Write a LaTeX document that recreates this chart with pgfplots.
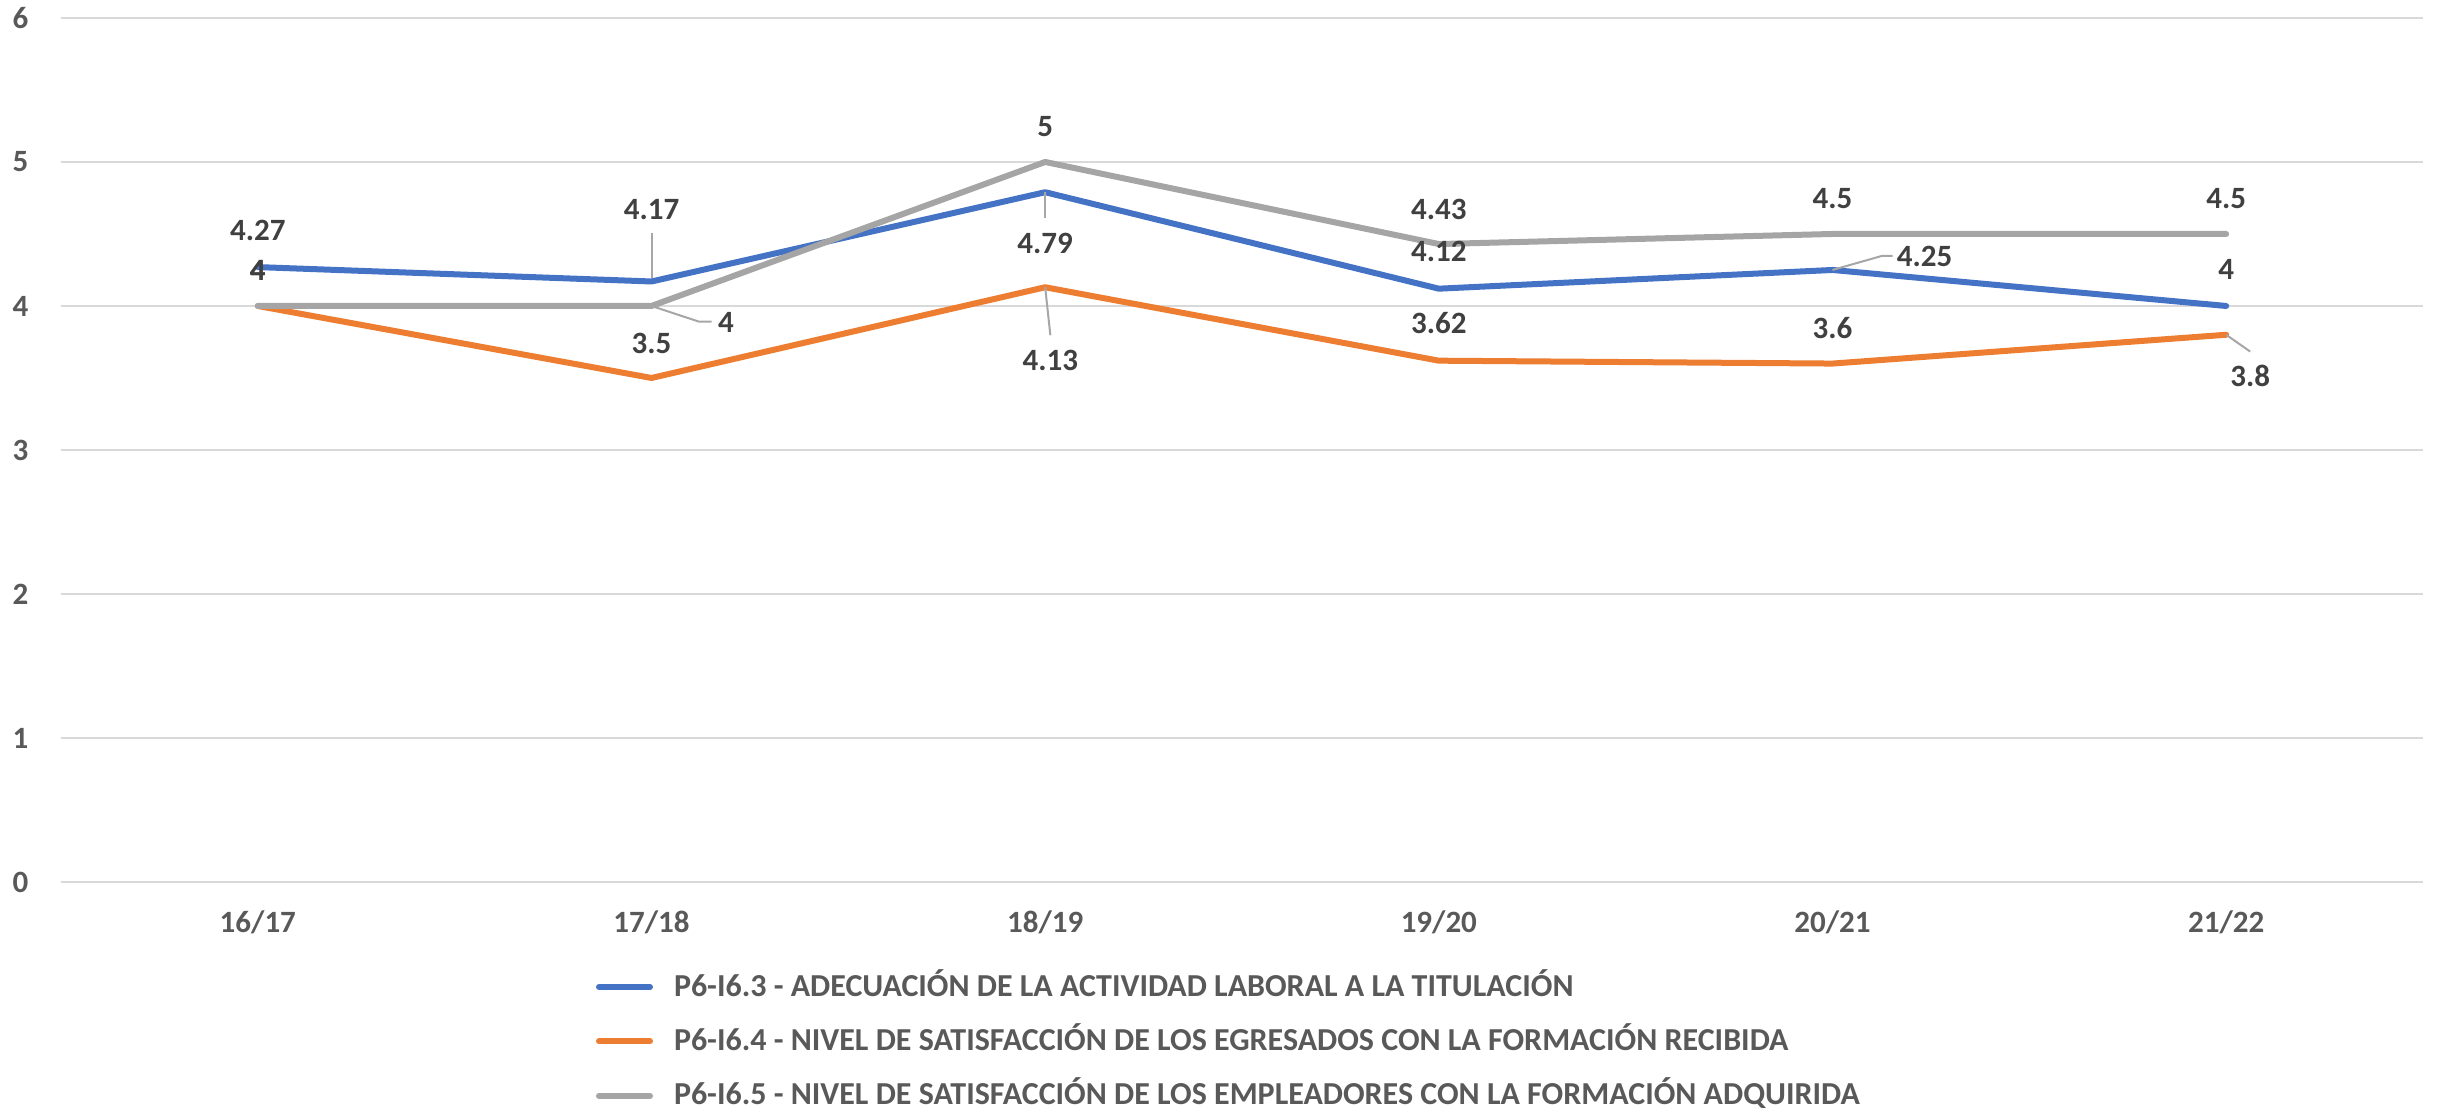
\documentclass[border=0pt]{standalone}
\usepackage{fontspec}
\setmainfont{Carlito}
\usepackage{pgfplots}
\usepackage{pgfplotstable}
\pgfplotsset{compat=1.18}
\usetikzlibrary{calc}
\definecolor{cblue}{HTML}{4472C4}
\definecolor{corange}{HTML}{ED7D31}
\definecolor{cgray}{HTML}{A5A5A5}
\definecolor{ctick}{HTML}{595959}
\definecolor{clabel}{HTML}{404040}
\definecolor{cgrid}{HTML}{D9D9D9}
\definecolor{clead}{HTML}{A6A6A6}

\pgfplotstableread{
x y dx dy
0 4.27 0 9.2
1 4.17 0 18
2 4.79 0 -12.9
3 4.12 0 9.3
4 4.25 23 3.3
5 4.00 0 9.2
}\tblue
\pgfplotstableread{
x y dx dy
0 4.00 0 9
1 3.50 0 8.6
2 4.13 1.3 -18.3
3 3.62 0 9.4
4 3.60 0 9
5 3.80 6 -10.4
}\torange
\pgfplotstableread{
x y dx dy
0 4.00 0 9
1 4.00 18.6 -4.2
2 5.00 0 8.75
3 4.43 0 8.75
4 4.50 0 8.75
5 4.50 0 8.75
}\tgray

\newcommand{\lblfont}{\fontsize{7.75}{9}\selectfont\bfseries}
\newcommand{\legfont}{\fontsize{8}{9.5}\selectfont\bfseries}

\pgfplotsset{
  datalabels/.style={draw=none, mark=none, forget plot,
    visualization depends on={\thisrow{dx} \as \dx},
    visualization depends on={\thisrow{dy} \as \dy},
    point meta=explicit,
    nodes near coords={\pgfmathprintnumber[assume math mode=true]{\pgfplotspointmeta}},
    every node near coord/.append style={font=\lblfont, text=clabel, anchor=center, inner sep=0pt, xshift=\dx, yshift=\dy},
  },
}

\begin{document}
\begin{tikzpicture}
\begin{axis}[
  name=ax,
  scale only axis,
  width=590.5pt, height=216pt,
  xmin=-0.5, xmax=5.5, ymin=0, ymax=6,
  xtick={0,1,2,3,4,5},
  xticklabels={16/17,17/18,18/19,19/20,20/21,21/22},
  ytick={0,1,2,3,4,5,6},
  axis line style={draw=none},
  major tick length=0pt,
  ymajorgrids,
  grid style={cgrid, line width=0.45pt},
  tick label style={font=\lblfont, text=ctick},
  xticklabel style={anchor=center, yshift=-10.2pt},
  yticklabel style={anchor=center, xshift=-10.1pt},
  /pgf/number format/assume math mode=true,
  clip=false,
  legend cell align=left,
  legend style={
    at={(axis description cs:0.2265,-0.1043)}, anchor=north west,
    draw=none, fill=none, inner sep=0pt, outer sep=0pt,
    font=\legfont, text=ctick,
    row sep=6.1pt, column sep=5.25pt,
    nodes={inner sep=0pt, text height=6pt, text depth=1.5pt},
  },
  legend image code/.code={\draw[#1, line cap=round] (0pt,0pt) -- (12.75pt,0pt);},
  every axis plot/.append style={line width=1.5pt, line join=round, line cap=round},
]
\addplot[cblue, mark=none] table[x=x, y=y] {\tblue};
\addlegendentry{P6-I6.3 - ADECUACIÓN DE LA ACTIVIDAD LABORAL A LA TITULACIÓN}
\addplot[corange, mark=none] table[x=x, y=y] {\torange};
\addlegendentry{P6-I6.4 - NIVEL DE SATISFACCIÓN DE LOS EGRESADOS CON LA FORMACIÓN RECIBIDA}
\addplot[cgray, mark=none] table[x=x, y=y] {\tgray};
\addlegendentry{P6-I6.5 - NIVEL DE SATISFACCIÓN DE LOS EMPLEADORES CON LA FORMACIÓN ADQUIRIDA}

% leader lines
\draw[clead, line width=0.5pt] (axis cs:1,4.17) ++(0pt,0.9pt) -- ++(0pt,11.1pt);
\draw[clead, line width=0.5pt] (axis cs:2,4.79) -- ++(0pt,-6.5pt);
\draw[clead, line width=0.5pt] (axis cs:4,4.25) -- ++(12.3pt,3.5pt) -- ++(2.7pt,0pt);
\draw[clead, line width=0.5pt] (axis cs:2,4.13) -- ++(1.3pt,-12pt);
\draw[clead, line width=0.5pt] (axis cs:5,3.80) -- ++(6pt,-4.2pt);
\draw[clead, line width=0.5pt] (axis cs:1,4.00) -- ++(11.8pt,-3.9pt) -- ++(3.2pt,0pt);

% data labels
\addplot[datalabels] table[x=x, y=y, meta=y] {\tblue};
\addplot[datalabels] table[x=x, y=y, meta=y] {\torange};
\addplot[datalabels] table[x=x, y=y, meta=y] {\tgray};
\end{axis}
\pgfresetboundingbox
\path[use as bounding box] ($(ax.south west)+(-15.25pt,-57pt)$) rectangle ($(ax.north east)+(3.75pt,4.5pt)$);
\end{tikzpicture}
\end{document}
